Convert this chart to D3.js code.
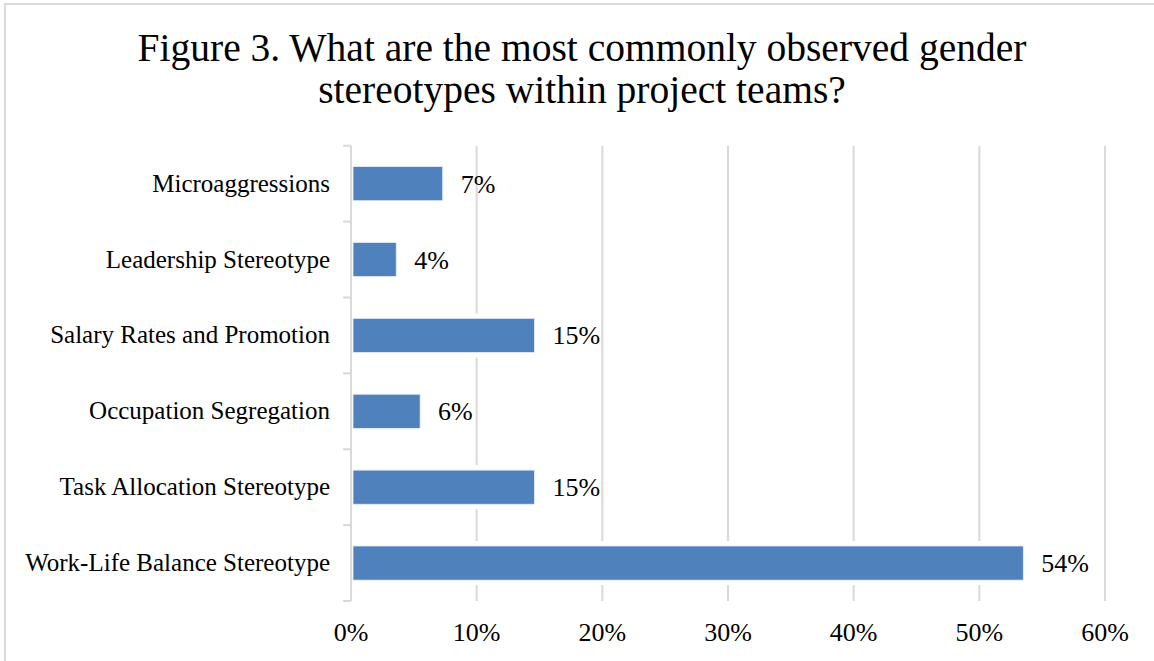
<!DOCTYPE html>
<html>
<head>
<meta charset="utf-8">
<script src="https://cdn.jsdelivr.net/npm/d3@7"></script>
<style>
  html, body { margin: 0; padding: 0; background: #fff; }
  text { font-family: "Liberation Serif", "Times New Roman", serif; fill: #000; }
</style>
</head>
<body>
<div id="chart"></div>
<script>
// chart data, top to bottom as shown
var categories = [
  "Microaggressions",
  "Leadership Stereotype",
  "Salary Rates and Promotion",
  "Occupation Segregation",
  "Task Allocation Stereotype",
  "Work-Life Balance Stereotype"
];
var values = [7.3, 3.6, 14.6, 5.5, 14.6, 53.5];
var valueLabels = ["7%", "4%", "15%", "6%", "15%", "54%"];
var xTicks = [0, 10, 20, 30, 40, 50, 60];
var titleLines = [
  "Figure 3. What are the most commonly observed gender",
  "stereotypes within project teams?"
];

var width = 1154, height = 661;
// plot area (don't call these top/left - window.top is taken)
var plotL = 351, plotR = 1105, plotT = 145.7, plotB = 601;

var svg = d3.select("#chart").append("svg")
    .attr("width", width)
    .attr("height", height);

// outer frame
svg.append("rect")
    .attr("x", 5).attr("y", 4)
    .attr("width", 1170).attr("height", 680)
    .attr("fill", "#fff")
    .attr("stroke", "#d9d9d9")
    .attr("stroke-width", 2);

var x = d3.scaleLinear().domain([0, 60]).range([plotL, plotR]);
var y = d3.scaleBand().domain(categories).range([plotT, plotB])
    .paddingInner(0.55).paddingOuter(0.275);

// gridlines
svg.selectAll("line.grid")
    .data(xTicks.slice(1))
    .enter().append("line")
      .attr("class", "grid")
      .attr("x1", function(d) { return x(d); })
      .attr("x2", function(d) { return x(d); })
      .attr("y1", plotT).attr("y2", plotB)
      .attr("stroke", "#d9d9d9")
      .attr("stroke-width", 2);

// y axis line + ticks at band edges
svg.append("line")
    .attr("x1", plotL).attr("x2", plotL)
    .attr("y1", plotT).attr("y2", plotB)
    .attr("stroke", "#d9d9d9").attr("stroke-width", 2);

var edges = d3.range(categories.length + 1).map(function(i) { return plotT + i * y.step(); });
svg.selectAll("line.ytick")
    .data(edges)
    .enter().append("line")
      .attr("class", "ytick")
      .attr("x1", plotL - 8).attr("x2", plotL)
      .attr("y1", function(d) { return d; })
      .attr("y2", function(d) { return d; })
      .attr("stroke", "#d9d9d9").attr("stroke-width", 2);

// white halo behind bars (cuts the gridlines like the original)
svg.selectAll("rect.halo")
    .data(values)
    .enter().append("rect")
      .attr("class", "halo")
      .attr("x", x(0) + 2)
      .attr("y", function(d, i) { return y(categories[i]) - 5; })
      .attr("width", function(d) { return x(d) - x(0) - 2; })
      .attr("height", y.bandwidth() + 10)
      .attr("fill", "#fff");

svg.selectAll("rect.bar")
    .data(values)
    .enter().append("rect")
      .attr("class", "bar")
      .attr("x", x(0) + 2)
      .attr("y", function(d, i) { return y(categories[i]); })
      .attr("width", function(d) { return x(d) - x(0) - 2; })
      .attr("height", y.bandwidth())
      .attr("fill", "#4f81bd")
      .attr("stroke", "#e8eef6")
      .attr("stroke-width", 0.8);

// value labels
svg.selectAll("text.val")
    .data(values)
    .enter().append("text")
      .attr("class", "val")
      .attr("x", function(d) { return x(d) + 18; })
      .attr("y", function(d, i) { return y(categories[i]) + y.bandwidth() / 2 + 9; })
      .style("font-size", "26px")
      .text(function(d, i) { return valueLabels[i]; });

// category labels
svg.selectAll("text.cat")
    .data(categories)
    .enter().append("text")
      .attr("class", "cat")
      .attr("x", 330)
      .attr("y", function(d) { return y(d) + y.bandwidth() / 2 + 8; })
      .attr("text-anchor", "end")
      .style("font-size", "25px")
      .text(function(d) { return d; });

// x tick labels
svg.selectAll("text.xt")
    .data(xTicks)
    .enter().append("text")
      .attr("class", "xt")
      .attr("x", function(d) { return x(d); })
      .attr("y", 641)
      .attr("text-anchor", "middle")
      .style("font-size", "26px")
      .text(function(d) { return d + "%"; });

// title
svg.selectAll("text.title")
    .data(titleLines)
    .enter().append("text")
      .attr("class", "title")
      .attr("x", 582)
      .attr("y", function(d, i) { return 61 + i * 42; })
      .attr("text-anchor", "middle")
      .style("font-size", "39.5px")
      .text(function(d) { return d; });
</script>
</body>
</html>
